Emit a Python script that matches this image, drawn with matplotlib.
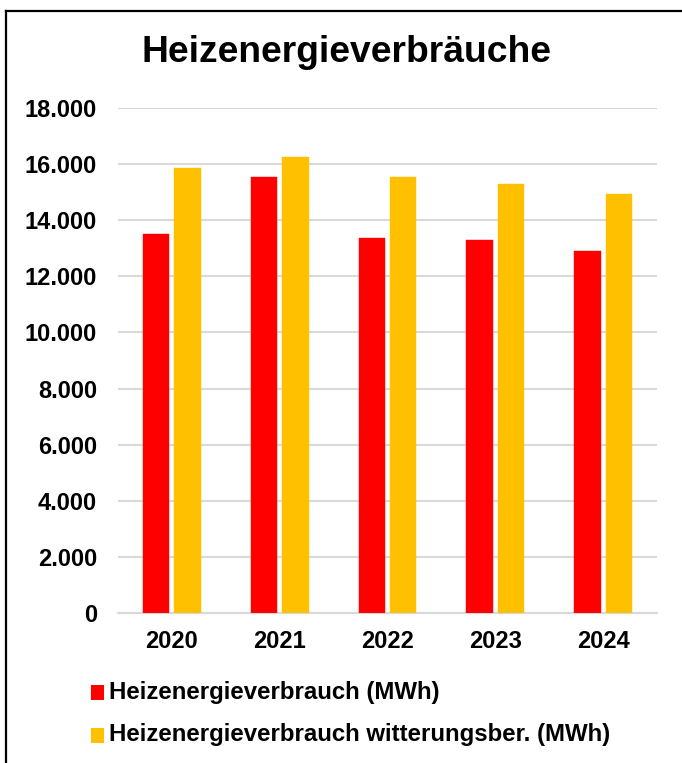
import matplotlib
matplotlib.use("Agg")
import matplotlib.pyplot as plt
from matplotlib.lines import Line2D
from matplotlib.patches import Rectangle
import numpy as np

years = ["2020", "2021", "2022", "2023", "2024"]
verbrauch = [13490, 15550, 13360, 13300, 12900]
witterungsber = [15870, 16240, 15530, 15290, 14930]
series_labels = ["Heizenergieverbrauch (MWh)", "Heizenergieverbrauch witterungsber. (MWh)"]
title = "Heizenergieverbräuche"
yticks = list(range(0, 18001, 2000))
ytick_labels = ["0", "2.000", "4.000", "6.000", "8.000", "10.000", "12.000", "14.000", "16.000", "18.000"]

plt.rcParams['font.family'] = ['Liberation Sans', 'DejaVu Sans']

W, H = 682, 763
fig = plt.figure(figsize=(W / 100, H / 100), dpi=100)
fig.patch.set_facecolor("white")

left, right, top, bottom = 118, 657, 107.7, 613.3
ax = fig.add_axes([left / W, 1 - bottom / H, (right - left) / W, (bottom - top) / H])

x = np.arange(len(years))
bw = 0.245
off = 0.145
ax.bar(x - off, verbrauch, bw, color="#FF0000", edgecolor="#FF0000", linewidth=0.3, zorder=3)
ax.bar(x + off, witterungsber, bw, color="#FFC000", edgecolor="#FFC000", linewidth=0.3, zorder=3)

ax.set_xlim(-0.5, len(years) - 0.5)
ax.set_ylim(0, 18000)
ax.set_yticks(yticks)
ax.set_yticklabels(ytick_labels)
ax.set_xticks(x)
ax.set_xticklabels(years)
ax.grid(axis="y", color="#D9D9D9", linewidth=1.5, zorder=0)
ax.set_axisbelow(True)
for s in ["top", "right", "left"]:
    ax.spines[s].set_visible(False)
ax.spines["bottom"].set_color("#D9D9D9")
ax.spines["bottom"].set_linewidth(1.5)
ax.tick_params(axis="both", length=0, labelsize=17)
ax.tick_params(axis="y", pad=15)
ax.tick_params(axis="x", pad=12)
for lab in ax.get_xticklabels() + ax.get_yticklabels():
    lab.set_fontweight("bold")
    lab.set_color("black")

fig.text(346 / W, 1 - 52 / H, title, ha="center", va="center",
         fontsize=26.8, fontweight="bold", color="black")

# legend drawn manually
colors = ["#FF0000", "#FFC000"]
ys = [692, 735]
for c, yy, lab in zip(colors, ys, series_labels):
    fig.patches.append(Rectangle((91 / W, 1 - (yy + 7.5) / H), 13 / W, 15 / H,
                                 transform=fig.transFigure, facecolor=c, edgecolor="none"))
    fig.text(109 / W, 1 - yy / H, lab, ha="left", va="center",
             fontsize=17.3, fontweight="bold", color="black")

# frame
fig.add_artist(Line2D([6 / W, 6 / W], [0, 1 - 11 / H], transform=fig.transFigure,
                      color="black", linewidth=1.6))
fig.add_artist(Line2D([6 / W, 1], [1 - 11 / H, 1 - 11 / H], transform=fig.transFigure,
                      color="black", linewidth=1.6))

fig.savefig("out.png", dpi=100, facecolor="white")
